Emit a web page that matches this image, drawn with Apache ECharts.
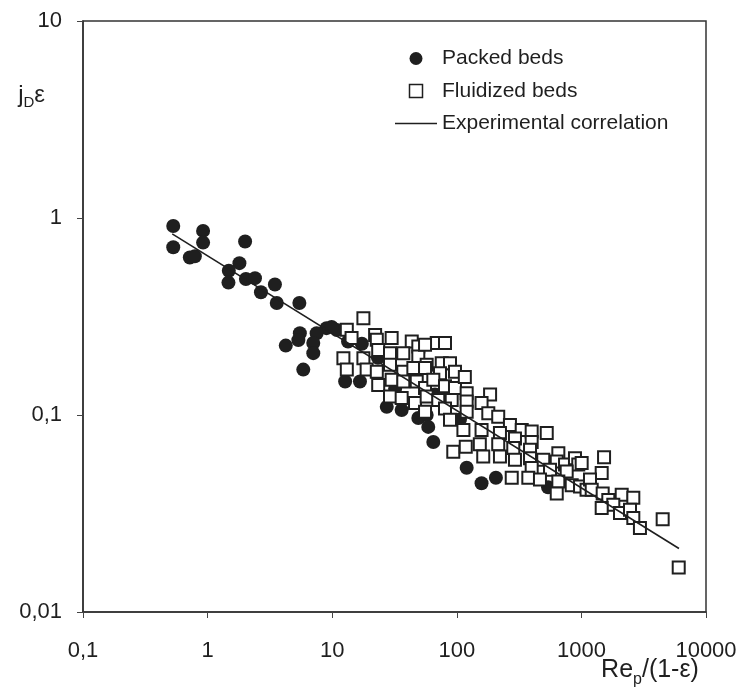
<!DOCTYPE html>
<html>
<head>
<meta charset="utf-8">
<script src="https://cdn.jsdelivr.net/npm/echarts@6/dist/echarts.min.js"></script>
<style>
html,body{margin:0;padding:0;background:#fff;}
#chart{width:744px;height:687px;}
</style>
</head>
<body>
<div id="chart"></div>
<script>
// Tick labels (decimal comma as in the original)
var xTickValues = [0.1, 1, 10, 100, 1000, 10000];
var xTickLabels = ['0,1', '1', '10', '100', '1000', '10000'];
var yTickValues = [0.01, 0.1, 1, 10];
var yTickLabels = ['0,01', '0,1', '1', '10'];

// Packed beds (filled circles)
var packedX = [0.53,0.53,0.92,0.92,0.72,0.79,2.0,1.8,1.48,1.47,2.03,2.4,2.68,3.47,3.59,5.45,9.0,7.5,4.24,5.5,5.35,7.05,7.05,5.86,10.9,12.7,16.7,9.9,27.4,36.1,49.1,57.3,59,64.8,120,158,206,540,17.3,13.4,44.5,23.3,66.8,32,106];
var packedY = [0.91,0.71,0.86,0.75,0.63,0.64,0.76,0.59,0.54,0.47,0.49,0.495,0.42,0.46,0.37,0.37,0.276,0.26,0.225,0.26,0.24,0.232,0.206,0.17,0.27,0.148,0.148,0.28,0.11,0.106,0.0965,0.1,0.087,0.073,0.054,0.045,0.048,0.043,0.23,0.236,0.17,0.195,0.127,0.136,0.095];

// Fluidized beds (open squares)
var fluidX = [17.8,13.1,14.3,22.1,22.8,30,43.5,49.1,69,80.4,12.3,17.8,23.4,29.1,37.2,49.1,57.3,13.1,18.9,22.8,29.1,37.2,44.8,55.6,75.7,88.2,73.3,96.7,23.4,30,37.2,47.7,55.6,64.8,80.4,96.7,29.1,36.1,46.2,57.3,71,91,55.6,80.4,88.2,
  116,93.7,118,55.6,
  120,185,120,158,120,179,215,267,113,158,222,332,399,527,399,293,153,215,284,387,163,222,293,387,494,653,634,739,888,944,399,560,762,276,375,465,653,836,975,634,1100,
  1520,1005,1455,1172,1210,1482,2106,2610,1644,1803,1455,2041,2455,2610,2950,4490,6040];
var fluidY = [0.31,0.271,0.246,0.255,0.241,0.246,0.236,0.223,0.232,0.232,0.194,0.194,0.214,0.206,0.206,0.198,0.18,0.17,0.17,0.166,0.18,0.166,0.173,0.173,0.183,0.183,0.163,0.166,0.142,0.151,0.148,0.148,0.137,0.151,0.14,0.137,0.124,0.122,0.115,0.124,0.119,0.119,0.104,0.108,0.0946,
  0.156,0.065,0.069,0.227,
  0.129,0.127,0.117,0.115,0.104,0.102,0.098,0.089,0.084,0.084,0.081,0.084,0.0825,0.081,0.073,0.076,0.071,0.071,0.068,0.0666,0.0616,0.0616,0.0593,0.0604,0.0593,0.064,0.058,0.056,0.0604,0.056,0.0538,0.0527,0.0517,0.048,0.048,0.047,0.046,0.044,0.0434,0.040,0.0417,
  0.061,0.057,0.0507,0.047,0.0417,0.040,0.0394,0.038,0.037,0.035,0.0337,0.0318,0.033,0.030,0.0267,0.0296,0.0168];

// Experimental correlation (straight line in log-log)
var corrX = [0.52, 6070];
var corrY = [0.83, 0.021];

function zip(a, b) { var r = []; for (var i = 0; i < a.length; i++) r.push([a[i], b[i]]); return r; }
function tickLabel(values, labels) {
  return function (v) {
    var e = Math.round(Math.log10(v));
    for (var i = 0; i < values.length; i++) {
      if (Math.round(Math.log10(values[i])) === e) return labels[i];
    }
    return '';
  };
}

var ink = '#1f1f1f';
var font = 'Liberation Sans, Arial, sans-serif';
var chart = echarts.init(document.getElementById('chart'), null, {renderer: 'canvas'});
chart.setOption({
  animation: false,
  backgroundColor: '#fff',
  grid: {left: 83, right: 38, top: 21, bottom: 75, show: true, borderColor: '#333', borderWidth: 1.5,
         containLabel: false, outerBoundsMode: 'none'},
  legend: {
    orient: 'vertical', left: 390, top: 43, itemWidth: 42, itemHeight: 13, itemGap: 11.5,
    textStyle: {fontSize: 21, fontFamily: font, color: ink},
    data: [
      {name: 'Packed beds', icon: 'circle'},
      {name: 'Fluidized beds', icon: 'path://M0,0L10,0L10,10L0,10Z', itemStyle: {color: '#fff', borderColor: ink, borderWidth: 1.5}},
      {name: 'Experimental correlation', icon: 'path://M0,0L42,0L42,1.6L0,1.6Z', itemStyle: {color: ink, borderWidth: 0}}
    ]
  },
  xAxis: {
    type: 'log', logBase: 10, min: 0.1, max: 10000,
    name: '{a|Re}{b|p}{a|/(1-ε)}', nameLocation: 'middle', nameGap: 40, nameMoveOverlap: false,
    nameTextStyle: {align: 'center', verticalAlign: 'top', padding: [0, 0, 0, 511],
      rich: {a: {fontSize: 25, fontFamily: font, color: ink, lineHeight: 26, verticalAlign: 'middle'},
             b: {fontSize: 16, fontFamily: font, color: ink, lineHeight: 36, verticalAlign: 'bottom'}}},
    axisLine: {show: true, lineStyle: {color: '#333', width: 1.5}},
    axisTick: {show: true, inside: false, length: 6, lineStyle: {color: '#444', width: 1}},
    minorTick: {show: false},
    splitLine: {show: false},
    axisLabel: {fontSize: 22, fontFamily: font, color: ink, margin: 28, formatter: tickLabel(xTickValues, xTickLabels)}
  },
  yAxis: {
    type: 'log', logBase: 10, min: 0.01, max: 10,
    name: '{a|j}{b|D}{a|ε}', nameLocation: 'end', nameGap: -74, nameMoveOverlap: false,
    nameTextStyle: {align: 'right', verticalAlign: 'middle', padding: [0, 38, 0, 0],
      rich: {a: {fontSize: 24, fontFamily: font, color: ink, lineHeight: 24, verticalAlign: 'middle'},
             b: {fontSize: 15, fontFamily: font, color: ink, lineHeight: 31, verticalAlign: 'bottom'}}},
    axisLine: {show: true, lineStyle: {color: '#333', width: 1.5}},
    axisTick: {show: true, inside: false, length: 6, lineStyle: {color: '#444', width: 1}},
    minorTick: {show: false},
    splitLine: {show: false},
    axisLabel: {fontSize: 22, fontFamily: font, color: ink, margin: 21, formatter: tickLabel(yTickValues, yTickLabels)}
  },
  series: [
    {name: 'Experimental correlation', type: 'line', data: zip(corrX, corrY), symbol: 'none',
     lineStyle: {color: ink, width: 1.6}, itemStyle: {color: ink}, silent: true},
    {name: 'Packed beds', type: 'scatter', data: zip(packedX, packedY), symbol: 'circle', symbolSize: 14,
     itemStyle: {color: ink, opacity: 1}},
    {name: 'Fluidized beds', type: 'scatter', data: zip(fluidX, fluidY), symbol: 'rect', symbolSize: 12,
     itemStyle: {color: '#fff', borderColor: ink, borderWidth: 2, opacity: 1}}
  ]
});
</script>
</body>
</html>
